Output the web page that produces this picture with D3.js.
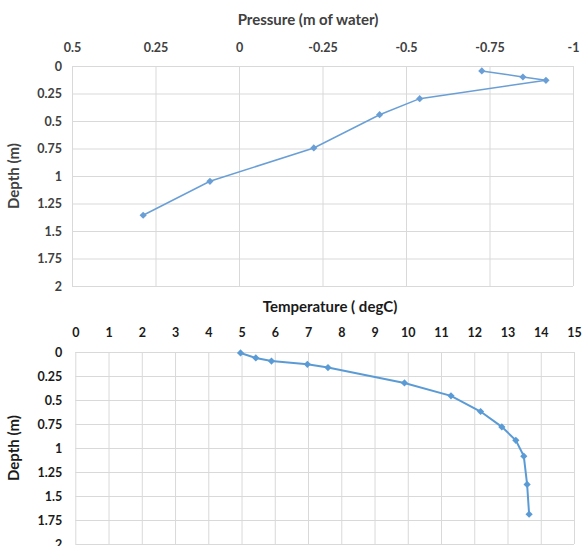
<!DOCTYPE html>
<html>
<head>
<meta charset="utf-8">
<script src="https://cdn.jsdelivr.net/npm/d3@7"></script>
<style>
  body { margin: 0; background: #fff; }
  svg { display: block; }
  text { font-family: Lato, "Open Sans", sans-serif; font-weight: bold; }
</style>
</head>
<body>
<div id="chart"></div>
<script>
// pressure profile (top)
const pressure = [-0.727, -0.85, -0.919, -0.541, -0.421, -0.224, 0.087, 0.287];
const pressureDepth = [0.045, 0.10, 0.13, 0.297, 0.443, 0.745, 1.048, 1.357];
const pressureTicks = [0.5, 0.25, 0, -0.25, -0.5, -0.75, -1];
const pressureTickLabels = ["0.5", "0.25", "0", "-0.25", "-0.5", "-0.75", "-1"];

// temperature profile (bottom)
const temperature = [4.97, 5.43, 5.9, 6.98, 7.6, 9.9, 11.3, 12.19, 12.83, 13.25, 13.49, 13.59, 13.65];
const tempDepth = [0.01, 0.062, 0.094, 0.128, 0.162, 0.322, 0.457, 0.62, 0.78, 0.92, 1.085, 1.38, 1.69];
const tempTicks = d3.range(0, 16);

const depthTicks = [0, 0.25, 0.5, 0.75, 1, 1.25, 1.5, 1.75, 2];
const depthTickLabels = ["0", "0.25", "0.5", "0.75", "1", "1.25", "1.5", "1.75", "2"];

const blue = "#5b9bd5";
const gridColor = "#d9d9d9";

const svg = d3.select("#chart").append("svg")
    .attr("width", 582)
    .attr("height", 546);

function drawPanel(opts) {
    const x = d3.scaleLinear().domain(opts.xDomain).range([opts.left, opts.right]);
    const y = d3.scaleLinear().domain([0, 2]).range([opts.top, opts.bottom]);
    const g = svg.append("g");

    // gridlines
    g.append("g")
        .attr("transform", `translate(0,${opts.top})`)
        .call(d3.axisTop(x).tickValues(opts.xTicks).tickSize(-(opts.bottom - opts.top)).tickFormat(""))
        .call(a => a.select(".domain").remove())
        .call(a => a.selectAll("line").attr("stroke", gridColor));
    g.append("g")
        .attr("transform", `translate(${opts.left},0)`)
        .call(d3.axisLeft(y).tickValues(depthTicks).tickSize(-(opts.right - opts.left)).tickFormat(""))
        .call(a => a.select(".domain").remove())
        .call(a => a.selectAll("line").attr("stroke", gridColor));

    // tick labels
    g.append("g")
        .attr("transform", `translate(0,${opts.top})`)
        .call(d3.axisTop(x).tickValues(opts.xTicks).tickSize(0).tickPadding(opts.xPad)
            .tickFormat((d, i) => opts.xLabels[i]))
        .call(a => a.select(".domain").remove())
        .call(a => a.selectAll("text").attr("fill", opts.textColor).style("font-size", "12.5px"));
    g.append("g")
        .attr("transform", `translate(${opts.left},0)`)
        .call(d3.axisLeft(y).tickValues(depthTicks).tickSize(0).tickPadding(opts.yPad)
            .tickFormat((d, i) => depthTickLabels[i]))
        .call(a => a.select(".domain").remove())
        .call(a => a.selectAll("text").attr("fill", opts.textColor).style("font-size", "12.5px"));

    // titles
    g.append("text")
        .attr("x", opts.titleX)
        .attr("y", opts.titleY)
        .attr("text-anchor", "middle")
        .attr("fill", opts.textColor)
        .style("font-size", "15px")
        .text(opts.title);
    g.append("text")
        .attr("transform", `translate(19,${(opts.top + opts.bottom) / 2}) rotate(-90)`)
        .attr("text-anchor", "middle")
        .attr("fill", opts.textColor)
        .style("font-size", "15px")
        .text("Depth (m)");

    const pts = opts.xs.map((v, i) => [v, opts.ys[i]]);
    const line = d3.line().x(d => x(d[0])).y(d => y(d[1]));

    g.append("path")
        .attr("d", line(pts))
        .attr("fill", "none")
        .attr("stroke", opts.lineColor)
        .attr("stroke-width", opts.lineWidth);

    g.selectAll(".pt")
        .data(pts)
        .enter().append("path")
        .attr("class", "pt")
        .attr("d", d3.symbol(d3.symbolSquare, 26))
        .attr("transform", d => `translate(${x(d[0])},${y(d[1])}) rotate(45)`)
        .attr("fill", opts.lineColor);
}

drawPanel({
    xDomain: [0.5, -1], left: 72, right: 573, top: 66, bottom: 286,
    xTicks: pressureTicks, xLabels: pressureTickLabels,
    xPad: 14, yPad: 10,
    title: "Pressure (m of water)", titleX: 308, titleY: 25,
    textColor: "#404040", lineColor: "#6a9fd6", lineWidth: 1.5,
    xs: pressure, ys: pressureDepth
});

drawPanel({
    xDomain: [0, 15], left: 75.3, right: 574, top: 352, bottom: 544,
    xTicks: tempTicks, xLabels: tempTicks.map(String),
    xPad: 15, yPad: 13,
    title: "Temperature ( degC)", titleX: 330, titleY: 312,
    textColor: "#1a1a1a", lineColor: blue, lineWidth: 2,
    xs: temperature, ys: tempDepth
});
</script>
</body>
</html>
